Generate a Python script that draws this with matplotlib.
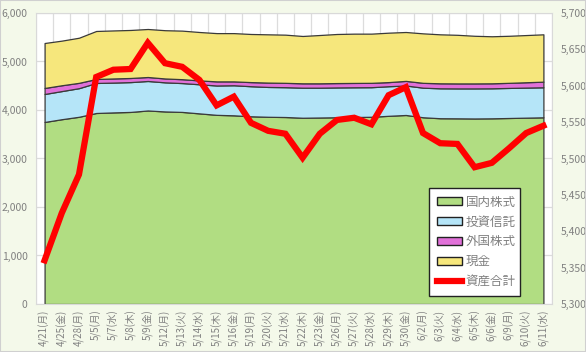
import numpy as np
import matplotlib
matplotlib.use("Agg")
import matplotlib.pyplot as plt
from matplotlib.patches import Patch, Rectangle
from matplotlib.lines import Line2D
from matplotlib.ticker import FuncFormatter, MultipleLocator

plt.rcParams['font.family'] = ['Noto Sans CJK JP', 'DejaVu Sans']

dates = ["4/21(月)", "4/25(金)", "4/28(月)", "5/5(月)", "5/7(水)", "5/8(木)", "5/9(金)",
         "5/12(月)", "5/13(火)", "5/14(水)", "5/15(木)", "5/16(金)", "5/19(月)", "5/20(火)",
         "5/21(水)", "5/22(木)", "5/23(金)", "5/26(月)", "5/27(火)", "5/28(水)", "5/29(木)",
         "5/30(金)", "6/2(月)", "6/3(火)", "6/4(水)", "6/5(木)", "6/6(金)", "6/9(月)",
         "6/10(火)", "6/11(水)"]

# cumulative tops
top_domestic = [3753, 3810, 3860, 3938, 3950, 3960, 3990, 3970, 3960, 3930, 3900, 3890, 3870, 3860,
                3855, 3840, 3845, 3850, 3855, 3860, 3880, 3897, 3850, 3830, 3828, 3825, 3828, 3835,
                3842, 3849]
top_fund = [4330, 4390, 4450, 4557, 4565, 4575, 4598, 4570, 4555, 4530, 4505, 4510, 4490, 4475,
            4470, 4460, 4460, 4465, 4468, 4470, 4490, 4505, 4460, 4447, 4445, 4445, 4447, 4455,
            4462, 4468]
top_foreign = [4454, 4510, 4560, 4639, 4650, 4660, 4680, 4650, 4635, 4610, 4590, 4590, 4575, 4565,
               4560, 4550, 4550, 4555, 4558, 4560, 4575, 4600, 4560, 4550, 4548, 4548, 4550, 4560,
               4572, 4584]
top_cash = [5381, 5430, 5490, 5629, 5640, 5650, 5670, 5645, 5636, 5608, 5585, 5585, 5567, 5560,
            5553, 5526, 5546, 5567, 5574, 5574, 5594, 5608, 5580, 5560, 5550, 5530, 5520, 5530,
            5545, 5560]

total = [5360, 5425, 5478, 5612, 5622, 5623, 5659, 5631, 5626, 5608, 5573, 5585, 5549, 5538,
         5534, 5501, 5534, 5553, 5556, 5547, 5587, 5598, 5535, 5521, 5520, 5488, 5494, 5514,
         5535, 5545]

domestic = np.array(top_domestic)
fund = np.array(top_fund) - np.array(top_domestic)
foreign = np.array(top_foreign) - np.array(top_fund)
cash = np.array(top_cash) - np.array(top_foreign)

names = ["国内株式", "投資信託", "外国株式", "現金"]
colors = ["#b1dd82", "#b5e5f8", "#e171d9", "#f6e77c"]
gray = "#808080"

fig = plt.figure(figsize=(5.86, 3.52), dpi=100)
fig.patch.set_facecolor("#f4f9ea")
fig.add_artist(Rectangle((0, 0), 1, 1, transform=fig.transFigure, fill=False,
                         edgecolor="#d0d0d0", linewidth=1.5))

ax = fig.add_axes([0.0614, 0.1364, 0.8806, 0.8267])
ax.set_facecolor("white")
x = np.arange(len(dates))
ax.stackplot(x, domestic, fund, foreign, cash, colors=colors,
             edgecolor="#3a3a3a", linewidth=0.9, zorder=2)
ax.set_xlim(-0.5, len(dates) - 0.5)
ax.set_ylim(0, 6000)
ax.yaxis.set_major_locator(MultipleLocator(1000))
ax.yaxis.set_major_formatter(FuncFormatter(lambda v, p: f"{int(v):,}"))
ax.set_xticks(x)
ax.set_xticklabels(dates, rotation=90, fontsize=7, color=gray)
ax.set_xticks(np.arange(-0.5, len(dates), 1), minor=True)
ax.grid(True, which="minor", axis="x", color="#dcdcdc", linewidth=0.9, zorder=0)
ax.grid(True, which="major", axis="y", color="#dcdcdc", linewidth=0.9, zorder=0)
ax.set_axisbelow(True)
ax.tick_params(axis="x", which="both", length=0, pad=4)
ax.tick_params(axis="y", length=0, labelsize=7.5, labelcolor=gray, pad=6)
for s in ax.spines.values():
    s.set_color("#d9d9d9")

ax2 = ax.twinx()
ax2.plot(x, total, color="#ff0000", linewidth=4.5, solid_joinstyle="miter", zorder=5)
ax2.set_ylim(5300, 5700)
ax2.yaxis.set_major_locator(MultipleLocator(50))
ax2.yaxis.set_major_formatter(FuncFormatter(lambda v, p: f"{int(v):,}"))
ax2.tick_params(axis="y", length=0, labelsize=7.5, labelcolor=gray, pad=6)
for s in ax2.spines.values():
    s.set_visible(False)

handles = [Patch(facecolor=c, edgecolor="#222222", linewidth=1) for c in colors]
handles.append(Line2D([0], [0], color="#ff0000", linewidth=4.5))
leg = ax2.legend(handles, names + ["資産合計"], loc="lower left",
                 bbox_to_anchor=(0.75, 0.007, 0.2, 0.374), mode="expand",
                 fontsize=9, frameon=True, fancybox=False, handlelength=2.0,
                 handleheight=0.6, handletextpad=0.3, labelspacing=0.55,
                 borderpad=0.6, labelcolor=gray)
leg.get_frame().set_edgecolor("#222222")
leg.get_frame().set_linewidth(1)
leg.get_frame().set_facecolor("white")
leg.get_frame().set_alpha(1)

fig.savefig("out.png", dpi=100, facecolor=fig.get_facecolor())
